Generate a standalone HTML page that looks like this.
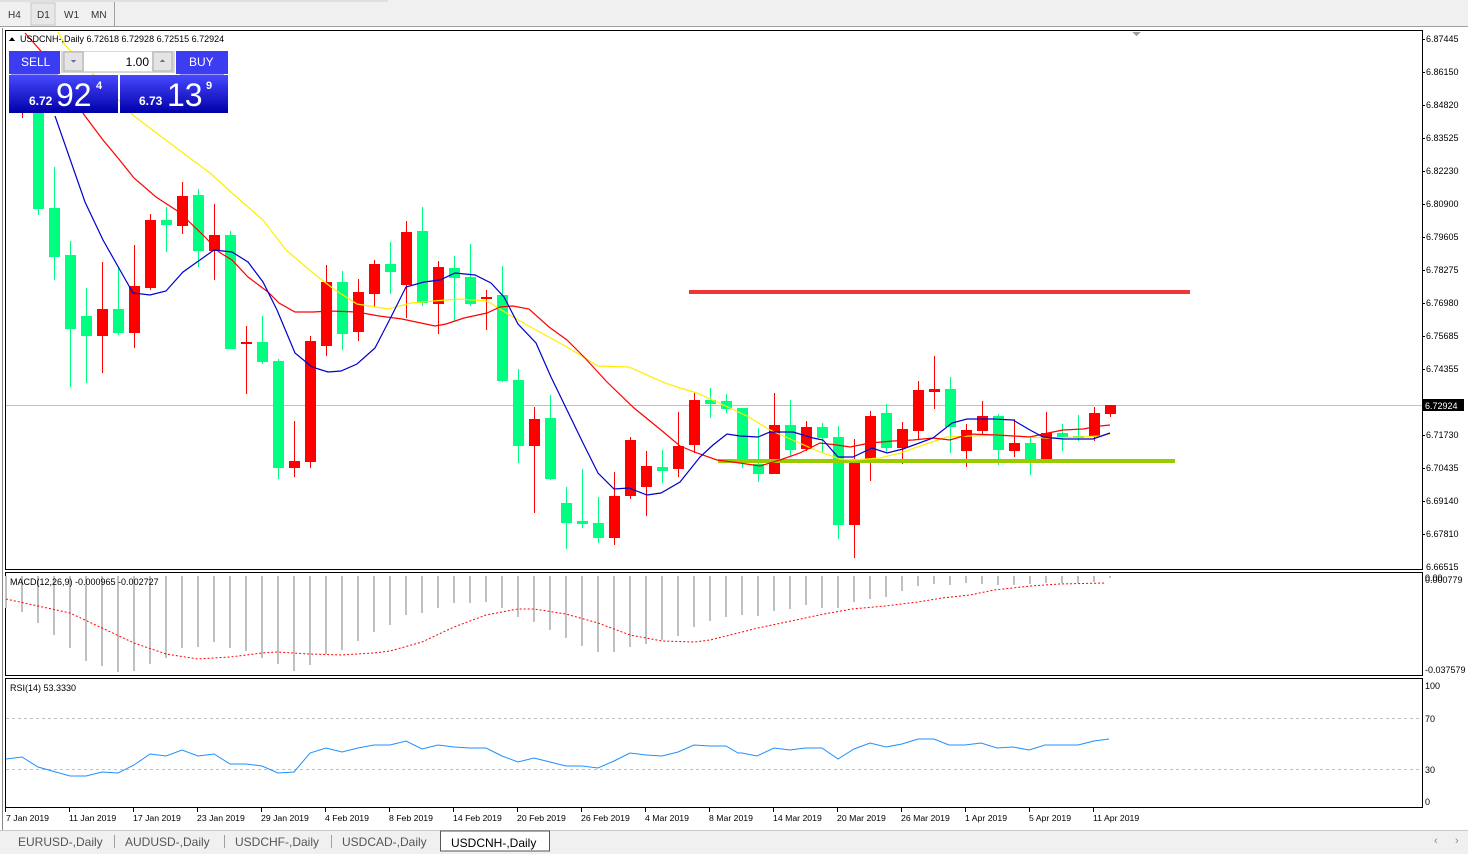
<!DOCTYPE html>
<html><head><meta charset="utf-8"><style>
html,body{margin:0;padding:0;background:#fff;}
body{width:1468px;height:854px;overflow:hidden;position:relative;font-family:"Liberation Sans",sans-serif;}
svg text{font-family:"Liberation Sans",sans-serif;}
</style></head><body>
<svg width="1468" height="854" viewBox="0 0 1468 854" xmlns="http://www.w3.org/2000/svg" shape-rendering="crispEdges">
<rect x="0" y="0" width="1468" height="27" fill="#f0f0f0"/>
<rect x="0" y="0" width="388" height="2" fill="#e0e0e0"/>
<rect x="31" y="3" width="24" height="22" fill="#e8e8e8" stroke="#c8c8c8"/>
<line x1="114.5" y1="2" x2="114.5" y2="26" stroke="#a0a0a0"/>
<line x1="0" y1="26.5" x2="1468" y2="26.5" stroke="#a0a0a0"/>
<g font-size="10" fill="#333">
<text x="8" y="18">H4</text><text x="37" y="18">D1</text><text x="64" y="18">W1</text><text x="91" y="18">MN</text></g>
<rect x="0" y="27" width="1468" height="803" fill="#fff"/>
<g fill="none" stroke="#000">
<rect x="5.5" y="30.5" width="1417" height="539"/>
<rect x="5.5" y="572.5" width="1417" height="103"/>
<rect x="5.5" y="678.5" width="1417" height="129"/>
</g>
<line x1="2.5" y1="28" x2="2.5" y2="830" stroke="#888"/>
<line x1="6" y1="405.5" x2="1422" y2="405.5" stroke="#c0c0c0"/>
<rect x="689" y="290" width="501" height="4" fill="#f23535"/>
<g>
<rect x="22" y="100" width="1" height="18" fill="#f00"/>
<rect x="38" y="95" width="1" height="120" fill="#00ff80"/><rect x="33" y="100" width="11" height="109" fill="#00ff80"/>
<rect x="54" y="167" width="1" height="113" fill="#00ff80"/><rect x="49" y="208" width="11" height="49" fill="#00ff80"/>
<rect x="70" y="241" width="1" height="146" fill="#00ff80"/><rect x="65" y="255" width="11" height="74" fill="#00ff80"/>
<rect x="86" y="288" width="1" height="95" fill="#00ff80"/><rect x="81" y="316" width="11" height="20" fill="#00ff80"/>
<rect x="102" y="262" width="1" height="111" fill="#f00"/><rect x="97" y="309" width="11" height="27" fill="#f00"/>
<rect x="118" y="267" width="1" height="68" fill="#00ff80"/><rect x="113" y="309" width="11" height="24" fill="#00ff80"/>
<rect x="134" y="245" width="1" height="103" fill="#f00"/><rect x="129" y="286" width="11" height="47" fill="#f00"/>
<rect x="150" y="214" width="1" height="76" fill="#f00"/><rect x="145" y="220" width="11" height="68" fill="#f00"/>
<rect x="166" y="207" width="1" height="45" fill="#00ff80"/><rect x="161" y="220" width="11" height="5" fill="#00ff80"/>
<rect x="182" y="182" width="1" height="52" fill="#f00"/><rect x="177" y="196" width="11" height="30" fill="#f00"/>
<rect x="198" y="189" width="1" height="78" fill="#00ff80"/><rect x="193" y="195" width="11" height="56" fill="#00ff80"/>
<rect x="214" y="204" width="1" height="76" fill="#f00"/><rect x="209" y="235" width="11" height="16" fill="#f00"/>
<rect x="230" y="231" width="1" height="118" fill="#00ff80"/><rect x="225" y="235" width="11" height="114" fill="#00ff80"/>
<rect x="246" y="326" width="1" height="68" fill="#f00"/><rect x="241" y="342" width="11" height="2" fill="#f00"/>
<rect x="262" y="316" width="1" height="48" fill="#00ff80"/><rect x="257" y="342" width="11" height="20" fill="#00ff80"/>
<rect x="278" y="359" width="1" height="120" fill="#00ff80"/><rect x="273" y="361" width="11" height="107" fill="#00ff80"/>
<rect x="294" y="421" width="1" height="56" fill="#f00"/><rect x="289" y="461" width="11" height="7" fill="#f00"/>
<rect x="310" y="336" width="1" height="132" fill="#f00"/><rect x="305" y="341" width="11" height="121" fill="#f00"/>
<rect x="326" y="265" width="1" height="91" fill="#f00"/><rect x="321" y="282" width="11" height="64" fill="#f00"/>
<rect x="342" y="271" width="1" height="79" fill="#00ff80"/><rect x="337" y="282" width="11" height="52" fill="#00ff80"/>
<rect x="358" y="279" width="1" height="62" fill="#f00"/><rect x="353" y="292" width="11" height="40" fill="#f00"/>
<rect x="374" y="260" width="1" height="47" fill="#f00"/><rect x="369" y="264" width="11" height="30" fill="#f00"/>
<rect x="390" y="242" width="1" height="52" fill="#00ff80"/><rect x="385" y="264" width="11" height="8" fill="#00ff80"/>
<rect x="406" y="221" width="1" height="97" fill="#f00"/><rect x="401" y="232" width="11" height="53" fill="#f00"/>
<rect x="422" y="207" width="1" height="99" fill="#00ff80"/><rect x="417" y="231" width="11" height="72" fill="#00ff80"/>
<rect x="438" y="261" width="1" height="73" fill="#f00"/><rect x="433" y="267" width="11" height="37" fill="#f00"/>
<rect x="454" y="256" width="1" height="65" fill="#00ff80"/><rect x="449" y="268" width="11" height="10" fill="#00ff80"/>
<rect x="470" y="244" width="1" height="62" fill="#00ff80"/><rect x="465" y="277" width="11" height="27" fill="#00ff80"/>
<rect x="486" y="290" width="1" height="40" fill="#f00"/><rect x="481" y="297" width="11" height="2" fill="#f00"/>
<rect x="502" y="266" width="1" height="116" fill="#00ff80"/><rect x="497" y="295" width="11" height="86" fill="#00ff80"/>
<rect x="518" y="369" width="1" height="94" fill="#00ff80"/><rect x="513" y="380" width="11" height="66" fill="#00ff80"/>
<rect x="534" y="407" width="1" height="106" fill="#f00"/><rect x="529" y="419" width="11" height="27" fill="#f00"/>
<rect x="550" y="395" width="1" height="85" fill="#00ff80"/><rect x="545" y="418" width="11" height="61" fill="#00ff80"/>
<rect x="566" y="487" width="1" height="62" fill="#00ff80"/><rect x="561" y="503" width="11" height="20" fill="#00ff80"/>
<rect x="582" y="469" width="1" height="59" fill="#00ff80"/><rect x="577" y="521" width="11" height="3" fill="#00ff80"/>
<rect x="598" y="497" width="1" height="46" fill="#00ff80"/><rect x="593" y="523" width="11" height="15" fill="#00ff80"/>
<rect x="614" y="472" width="1" height="73" fill="#f00"/><rect x="609" y="496" width="11" height="42" fill="#f00"/>
<rect x="630" y="437" width="1" height="62" fill="#f00"/><rect x="625" y="440" width="11" height="56" fill="#f00"/>
<rect x="646" y="451" width="1" height="65" fill="#f00"/><rect x="641" y="466" width="11" height="21" fill="#f00"/>
<rect x="662" y="450" width="1" height="33" fill="#00ff80"/><rect x="657" y="467" width="11" height="4" fill="#00ff80"/>
<rect x="678" y="412" width="1" height="65" fill="#f00"/><rect x="673" y="446" width="11" height="23" fill="#f00"/>
<rect x="694" y="393" width="1" height="60" fill="#f00"/><rect x="689" y="400" width="11" height="45" fill="#f00"/>
<rect x="710" y="388" width="1" height="30" fill="#00ff80"/><rect x="705" y="400" width="11" height="4" fill="#00ff80"/>
<rect x="726" y="394" width="1" height="19" fill="#00ff80"/><rect x="721" y="401" width="11" height="8" fill="#00ff80"/>
<rect x="742" y="408" width="1" height="60" fill="#00ff80"/><rect x="737" y="408" width="11" height="54" fill="#00ff80"/>
<rect x="758" y="428" width="1" height="54" fill="#00ff80"/><rect x="753" y="464" width="11" height="10" fill="#00ff80"/>
<rect x="774" y="393" width="1" height="81" fill="#f00"/><rect x="769" y="425" width="11" height="49" fill="#f00"/>
<rect x="790" y="400" width="1" height="56" fill="#00ff80"/><rect x="785" y="425" width="11" height="25" fill="#00ff80"/>
<rect x="806" y="421" width="1" height="30" fill="#f00"/><rect x="801" y="427" width="11" height="22" fill="#f00"/>
<rect x="822" y="423" width="1" height="29" fill="#00ff80"/><rect x="817" y="427" width="11" height="11" fill="#00ff80"/>
<rect x="838" y="426" width="1" height="113" fill="#00ff80"/><rect x="833" y="437" width="11" height="88" fill="#00ff80"/>
<rect x="854" y="439" width="1" height="119" fill="#f00"/><rect x="849" y="463" width="11" height="62" fill="#f00"/>
<rect x="870" y="411" width="1" height="70" fill="#f00"/><rect x="865" y="416" width="11" height="46" fill="#f00"/>
<rect x="886" y="404" width="1" height="48" fill="#00ff80"/><rect x="881" y="413" width="11" height="35" fill="#00ff80"/>
<rect x="902" y="422" width="1" height="42" fill="#f00"/><rect x="897" y="429" width="11" height="19" fill="#f00"/>
<rect x="918" y="381" width="1" height="59" fill="#f00"/><rect x="913" y="390" width="11" height="41" fill="#f00"/>
<rect x="934" y="356" width="1" height="53" fill="#f00"/><rect x="929" y="389" width="11" height="3" fill="#f00"/>
<rect x="950" y="377" width="1" height="76" fill="#00ff80"/><rect x="945" y="389" width="11" height="38" fill="#00ff80"/>
<rect x="966" y="424" width="1" height="43" fill="#f00"/><rect x="961" y="430" width="11" height="21" fill="#f00"/>
<rect x="982" y="401" width="1" height="33" fill="#f00"/><rect x="977" y="416" width="11" height="15" fill="#f00"/>
<rect x="998" y="414" width="1" height="51" fill="#00ff80"/><rect x="993" y="416" width="11" height="34" fill="#00ff80"/>
<rect x="1014" y="419" width="1" height="38" fill="#f00"/><rect x="1009" y="443" width="11" height="8" fill="#f00"/>
<rect x="1030" y="437" width="1" height="38" fill="#00ff80"/><rect x="1025" y="443" width="11" height="19" fill="#00ff80"/>
<rect x="1046" y="412" width="1" height="47" fill="#f00"/><rect x="1041" y="433" width="11" height="26" fill="#f00"/>
<rect x="1062" y="424" width="1" height="27" fill="#00ff80"/><rect x="1057" y="433" width="11" height="4" fill="#00ff80"/>
<rect x="1078" y="415" width="1" height="26" fill="#00ff80"/><rect x="1073" y="436" width="11" height="2" fill="#00ff80"/>
<rect x="1094" y="407" width="1" height="34" fill="#f00"/><rect x="1089" y="413" width="11" height="24" fill="#f00"/>
<rect x="1110" y="405" width="1" height="12" fill="#f00"/><rect x="1105" y="405" width="11" height="9" fill="#f00"/>
</g>
<rect x="718" y="459" width="457" height="4" fill="#99cc00"/>
<g fill="none" stroke-width="1.2" shape-rendering="auto">
<polyline stroke="#ffee00" points="58,32 65,45 134,116 179,150 210,173 232,193 263,220 286,250 313,273 335,290 357,304 388,309 411,303 433,301 460,299 487,301 513,317 536,330 567,347 598,366 629,367 665,383 680,388 697,393 717,402 747,416 770,430 797,442 820,452 840,459 853,460 880,458 900,453 920,446 947,437 970,436 1000,435 1030,437 1047,438 1080,437 1100,436 1110,434"/>
<polyline stroke="#ff0000" points="25,33 40,50 85,116 103,140 118,158 134,178 156,197 179,212 205,237 219,252 232,260 248,277 268,292 279,303 295,312 313,312 330,311 357,312 379,316 402,319 435,326 446,324 464,318 487,313 500,307 513,306 529,309 549,327 567,340 585,358 607,382 634,408 661,430 680,446 697,453 717,460 733,462 760,466 780,460 800,453 820,443 837,445 850,447 870,443 893,441 913,440 933,438 950,440 970,434 997,435 1030,437 1043,434 1063,430 1083,429 1100,426 1110,425"/>
<polyline stroke="#0000cc" points="55,116 85,202 103,240 133,293 150,295 166,291 183,272 214,250 232,252 248,262 263,282 277,310 295,353 312,367 328,372 341,371 357,364 375,348 391,317 406,287 424,282 440,280 455,273 475,275 491,283 504,297 518,324 536,343 551,377 567,410 583,443 598,473 614,489 629,488 647,495 661,493 680,482 700,457 713,445 727,434 740,436 758,437 770,432 793,432 813,438 823,440 838,457 853,457 872,448 887,453 903,449 933,438 952,423 967,419 993,419 1013,420 1030,430 1043,437 1063,439 1093,439 1110,433"/>
</g>
<defs><linearGradient id="bg" x1="0" y1="0" x2="0" y2="1"><stop offset="0" stop-color="#4848ff"/><stop offset="1" stop-color="#0000a8"/></linearGradient></defs>
<rect x="9" y="51" width="51" height="23" fill="#3c3cf0"/>
<rect x="176" y="51" width="52" height="23" fill="#3c3cf0"/>
<rect x="61" y="51" width="114" height="22" fill="#d8d8d8"/>
<rect x="64" y="52" width="19" height="19" fill="#e4e4e4" stroke="#b0b0b0"/>
<rect x="84" y="52" width="68" height="19" fill="#fff"/>
<rect x="153" y="52" width="19" height="19" fill="#e4e4e4" stroke="#b0b0b0"/>
<path d="M71 60h5l-2.5 3z" fill="#6a6aa8"/><path d="M160 62h5l-2.5-3z" fill="#6a6aa8"/>
<line x1="11" y1="74.5" x2="58" y2="74.5" stroke="#9a9aff"/><line x1="180" y1="74.5" x2="224" y2="74.5" stroke="#9a9aff"/>
<rect x="9" y="75" width="109" height="38" fill="url(#bg)"/>
<rect x="120" y="75" width="108" height="38" fill="url(#bg)"/>
<g fill="#fff">
<text x="21" y="66" font-size="12">SELL</text><text x="189" y="66" font-size="12">BUY</text>
<text x="29" y="105" font-size="12" font-weight="bold">6.72</text>
<text x="56" y="106" font-size="32">92</text><text x="96" y="89" font-size="11" font-weight="bold">4</text>
<text x="139" y="105" font-size="12" font-weight="bold">6.73</text>
<text x="167" y="106" font-size="32">13</text><text x="206" y="89" font-size="11" font-weight="bold">9</text>
</g>
<text x="149" y="66" font-size="12" text-anchor="end" fill="#000">1.00</text>
<path d="M9 41l3-4 3 4z" fill="#000"/>
<text x="20" y="42" font-size="9" fill="#000">USDCNH-,Daily  6.72618 6.72928 6.72515 6.72924</text>
<path d="M1132 32h9l-4.5 4z" fill="#a0a0a0"/>
<g font-size="9" fill="#000">
<text x="1426" y="42">6.87445</text><text x="1426" y="75">6.86150</text><text x="1426" y="108">6.84820</text><text x="1426" y="141">6.83525</text><text x="1426" y="174">6.82230</text><text x="1426" y="207">6.80900</text><text x="1426" y="240">6.79605</text><text x="1426" y="273">6.78275</text><text x="1426" y="306">6.76980</text><text x="1426" y="339">6.75685</text><text x="1426" y="372">6.74355</text><text x="1426" y="438">6.71730</text><text x="1426" y="471">6.70435</text><text x="1426" y="504">6.69140</text><text x="1426" y="537">6.67810</text><text x="1426" y="570">6.66515</text>
</g>
<g stroke="#000"><line x1="1422" y1="39.5" x2="1425" y2="39.5"/><line x1="1422" y1="72.5" x2="1425" y2="72.5"/><line x1="1422" y1="105.5" x2="1425" y2="105.5"/><line x1="1422" y1="138.5" x2="1425" y2="138.5"/><line x1="1422" y1="171.5" x2="1425" y2="171.5"/><line x1="1422" y1="204.5" x2="1425" y2="204.5"/><line x1="1422" y1="237.5" x2="1425" y2="237.5"/><line x1="1422" y1="270.5" x2="1425" y2="270.5"/><line x1="1422" y1="303.5" x2="1425" y2="303.5"/><line x1="1422" y1="336.5" x2="1425" y2="336.5"/><line x1="1422" y1="369.5" x2="1425" y2="369.5"/><line x1="1422" y1="435.5" x2="1425" y2="435.5"/><line x1="1422" y1="468.5" x2="1425" y2="468.5"/><line x1="1422" y1="501.5" x2="1425" y2="501.5"/><line x1="1422" y1="534.5" x2="1425" y2="534.5"/></g>
<rect x="1423" y="399" width="41" height="12" fill="#000"/>
<text x="1425" y="409" font-size="9" fill="#fff">6.72924</text>
<g stroke="#c0c0c0" stroke-width="2">
<path d="M6 576V608M22 576V612M38 576V623M54 576V635M70 576V648M86 576V661M102 576V666M118 576V672M134 576V671M150 576V664M166 576V658M182 576V648M198 576V647M214 576V642M230 576V648M246 576V651M262 576V658M278 576V664M294 576V671M310 576V665M326 576V654M342 576V650M358 576V641M374 576V632M390 576V625M406 576V615M422 576V613M438 576V608M454 576V603M470 576V603M486 576V602M502 576V608M518 576V617M534 576V622M550 576V630M566 576V638M582 576V646M598 576V652M614 576V652M630 576V647M646 576V644M662 576V640M678 576V636M694 576V627M710 576V621M726 576V617M742 576V615M758 576V616M774 576V611M790 576V609M806 576V605M822 576V608M838 576V608M854 576V602M870 576V599M886 576V597M902 576V591M918 576V586M934 576V584M950 576V585M966 576V583M982 576V584M998 576V585M1014 576V585M1030 576V584M1046 576V583M1062 576V583M1078 576V583M1094 576V582M1110 576V578"/>
</g>
<polyline fill="none" stroke="#ff0000" stroke-dasharray="2,2" shape-rendering="auto" points="6,599 38,606 70,613 102,628 134,643 166,654 198,659 230,657 262,653 278,652 310,654 342,655 374,653 390,651 422,642 454,627 486,615 518,609 534,609 566,614 598,623 630,635 662,641 694,642 710,640 730,635 758,628 791,621 824,614 852,609 885,606 918,602 942,598 970,595 994,590 1031,586 1059,584 1106,583"/>
<g font-size="9" fill="#000"><text x="10" y="585">MACD(12,26,9) -0.000965 -0.002727</text>
<text x="1425" y="581">0.00</text><text x="1425" y="583">0.000779</text><text x="1425" y="673">-0.037579</text>
<text x="10" y="691">RSI(14) 53.3330</text>
<text x="1425" y="689">100</text><text x="1425" y="722">70</text><text x="1425" y="773">30</text><text x="1425" y="805">0</text></g>
<g stroke="#c0c0c0" stroke-dasharray="3,3"><line x1="6" y1="718.5" x2="1422" y2="718.5"/><line x1="6" y1="769.5" x2="1422" y2="769.5"/></g>
<polyline fill="none" stroke="#1e90ff" shape-rendering="auto" points="6,759 22,757 38,767 70,776 86,776 102,772 118,773 134,765 150,754 166,756 182,750 198,756 214,754 230,764 246,764 262,766 278,773 294,772 310,753 326,748 342,752 358,748 374,745 390,745 406,741 422,749 438,745 454,747 470,748 486,748 502,756 518,762 534,758 550,762 566,766 582,766 598,768 614,761 630,753 646,755 662,756 678,752 694,745 710,746 726,746 738,753 742,753 757,756 774,748 790,750 805,748 822,748 838,759 854,749 870,743 886,747 902,744 918,739 934,739 949,745 965,745 981,743 997,748 1013,747 1029,750 1045,745 1078,745 1094,741 1109,739"/>
<g stroke="#000"><path d="M5.5 808v4M69.5 808v4M133.5 808v4M197.5 808v4M261.5 808v4M325.5 808v4M389.5 808v4M453.5 808v4M517.5 808v4M581.5 808v4M645.5 808v4M709.5 808v4M773.5 808v4M837.5 808v4M901.5 808v4M965.5 808v4M1029.5 808v4M1093.5 808v4"/></g>
<g font-size="8.7" fill="#000">
<text x="6" y="821">7 Jan 2019</text><text x="69" y="821">11 Jan 2019</text><text x="133" y="821">17 Jan 2019</text><text x="197" y="821">23 Jan 2019</text><text x="261" y="821">29 Jan 2019</text><text x="325" y="821">4 Feb 2019</text><text x="389" y="821">8 Feb 2019</text><text x="453" y="821">14 Feb 2019</text><text x="517" y="821">20 Feb 2019</text><text x="581" y="821">26 Feb 2019</text><text x="645" y="821">4 Mar 2019</text><text x="709" y="821">8 Mar 2019</text><text x="773" y="821">14 Mar 2019</text><text x="837" y="821">20 Mar 2019</text><text x="901" y="821">26 Mar 2019</text><text x="965" y="821">1 Apr 2019</text><text x="1029" y="821">5 Apr 2019</text><text x="1093" y="821">11 Apr 2019</text>
</g>
<rect x="0" y="830" width="1468" height="24" fill="#f0f0f0"/>
<line x1="0" y1="830.5" x2="1468" y2="830.5" stroke="#c8c8c8"/>
<rect x="440.5" y="831" width="109" height="20" fill="#fff" stroke="#555"/>
<g stroke="#a0a0a0"><line x1="114.5" y1="835" x2="114.5" y2="848"/><line x1="224.5" y1="835" x2="224.5" y2="848"/><line x1="331.5" y1="835" x2="331.5" y2="848"/></g>
<g font-size="12" fill="#555"><text x="18" y="846">EURUSD-,Daily</text><text x="125" y="846">AUDUSD-,Daily</text><text x="235" y="846">USDCHF-,Daily</text><text x="342" y="846">USDCAD-,Daily</text></g>
<text x="451" y="847" font-size="12" fill="#000">USDCNH-,Daily</text>
<text x="1434" y="844" font-size="11" fill="#888">‹</text><text x="1455" y="844" font-size="11" fill="#888">›</text>
</svg>
</body></html>
